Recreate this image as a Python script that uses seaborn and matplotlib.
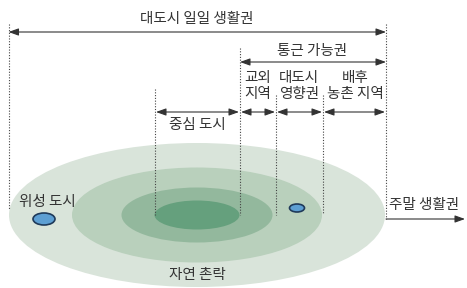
import matplotlib
matplotlib.use("Agg")
import matplotlib.pyplot as plt
from matplotlib.patches import Ellipse
import seaborn as sns

# === 데이터: 권역 경계 (픽셀 좌표) ===
zone_edges = [155, 240, 276, 323, 386]
left_edge = 8.5
zone_labels = ["중심 도시", "교외\n지역", "대도시\n영향권", "배후\n농촌 지역"]
top_label = "대도시 일일 생활권"
commute_label = "통근 가능권"
weekend_label = "주말 생활권"
satellite_label = "위성 도시"
village_label = "자연 촌락"

# 동심 타원 (폭, 높이)
ring_widths = [376, 250, 151, 85]
ring_heights = [144, 95, 55, 29]
ring_colors = ["#d9e4da", "#b9d0bc", "#93b89d", "#65a07d"]

sns.set_theme(style="white")
plt.rcParams["font.family"] = ["Noto Sans CJK KR", "DejaVu Sans"]

fig, ax = plt.subplots(figsize=(4.67, 2.88), dpi=100)
fig.subplots_adjust(0, 0, 1, 1)
ax.set_xlim(0, 467)
ax.set_ylim(288, 0)
ax.axis("off")

txt = "#333333"
fs = 10.5
cx, cy = 197, 215

# === 타원 ===
for w, h, c in zip(ring_widths, ring_heights, ring_colors):
    ax.add_patch(Ellipse((cx, cy), w, h, facecolor=c, edgecolor="none", zorder=1))

# 위성 도시 (작은 타원)
ax.add_patch(Ellipse((44, 219), 22, 12, facecolor="#5d9fd3", edgecolor="#1f3a5a", lw=1.2, zorder=3))
ax.add_patch(Ellipse((297, 208), 15, 8, facecolor="#5d9fd3", edgecolor="#1f3a5a", lw=1.2, zorder=3))

# === 점선 ===
dot = dict(color="#444444", lw=0.8, ls=(0, (1, 1.5)), zorder=4)
ax.plot([left_edge, left_edge], [24, 210], **dot)
ax.plot([zone_edges[4], zone_edges[4]], [24, 219], **dot)
ax.plot([zone_edges[1], zone_edges[1]], [48, 215], **dot)
ax.plot([zone_edges[0], zone_edges[0]], [89, 215], **dot)
ax.plot([zone_edges[2], zone_edges[2]], [95, 215], **dot)
ax.plot([zone_edges[3], zone_edges[3]], [95, 214], **dot)

# === 화살표 ===
def arrow(x0, x1, y, style="<|-|>"):
    ax.annotate("", xy=(x1, y), xytext=(x0, y),
                arrowprops=dict(arrowstyle=style + ",head_length=0.5,head_width=0.18",
                                color="#333333", lw=0.8, shrinkA=0, shrinkB=0),
                zorder=5)

arrow(left_edge, zone_edges[4], 32)
arrow(zone_edges[1], zone_edges[4], 62)
for a, b in zip(zone_edges[:-1], zone_edges[1:]):
    arrow(a + 1, b - 1, 112)
arrow(zone_edges[4], 465, 219, style="-|>")

# === 텍스트 ===
ax.text(197, 19, top_label, ha="center", va="center", fontsize=fs, color=txt)
ax.text(312, 51, commute_label, ha="center", va="center", fontsize=fs, color=txt)
ax.text(197, 125, zone_labels[0], ha="center", va="center", fontsize=fs, color=txt)
ax.text(258, 86, zone_labels[1], ha="center", va="center", fontsize=fs, color=txt, linespacing=1.15)
ax.text(299, 86, zone_labels[2], ha="center", va="center", fontsize=fs, color=txt, linespacing=1.15)
ax.text(355, 86, zone_labels[3], ha="center", va="center", fontsize=fs, color=txt, linespacing=1.15)
ax.text(47, 202, satellite_label, ha="center", va="center", fontsize=fs, color=txt, zorder=6)
ax.text(424, 205, weekend_label, ha="center", va="center", fontsize=fs, color=txt)
ax.text(197, 275, village_label, ha="center", va="center", fontsize=fs, color=txt, zorder=6)

fig.savefig("out.png", dpi=100)
